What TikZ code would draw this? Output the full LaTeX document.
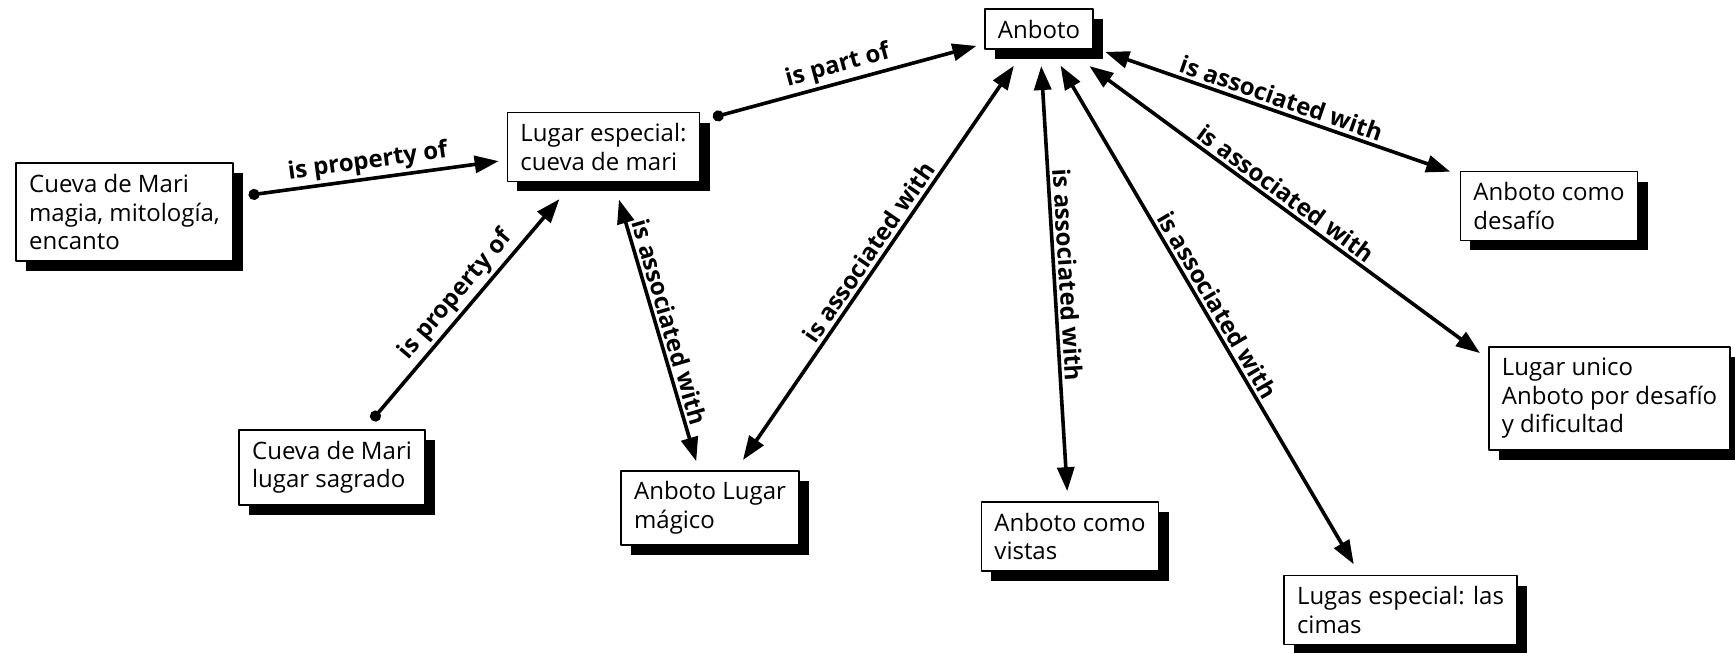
\documentclass[tikz,border=0pt]{standalone}
\usepackage{fontspec}
\setmainfont{Open Sans}
\usetikzlibrary{arrows.meta,shadows}

\tikzset{
  concept/.style={draw=black, line width=1.7pt, fill=white, align=left,
    inner xsep=13pt, inner ysep=11pt, font=\fontsize{24}{28.5}\selectfont,
    drop shadow={shadow xshift=10pt, shadow yshift=-10pt, fill=black, opacity=1}},
  both/.style={line width=3.6pt, {Triangle[length=24pt,width=17pt]}-{Triangle[length=24pt,width=17pt]}},
  from/.style={line width=3.6pt, {Circle[length=11pt]}-{Triangle[length=24pt,width=17pt]}},
  lbl/.style={font=\bfseries\fontsize{24}{28.5}\selectfont, sloped, above, midway, inner sep=3pt}
}

\begin{document}
\begin{tikzpicture}[line join=round,x=1pt,y=-1pt]
		\useasboundingbox (0,0) rectangle (1735,653);
		% concepts
		\node[concept] (cuevamagia) at (124.5,212) {Cueva de Mari\\magia, mitología,\\encanto};
		\node[concept] (lugarcueva) at (603.5,147) {Lugar especial:\\cueva de mari};
		\node[concept] (anboto) at (1039,29) {Anboto};
		\node[concept] (desafio) at (1549,206) {Anboto como\\desafío};
		\node[concept] (unico) at (1609.5,398.5) {Lugar unico\\Anboto por desafío\\y dificultad};
		\node[concept] (sagrado) at (332,467.5) {Cueva de Mari\\lugar sagrado};
		\node[concept] (magico) at (710,508) {Anboto Lugar\\mágico};
		\node[concept] (vistas) at (1070,536.5) {Anboto como\\vistas};
		\node[concept] (cimas) at (1400.5,610) {Lugas especial: las\\cimas};
		% links
		\draw[from, shorten <=15pt, shorten >=8pt] (cuevamagia) -- node[lbl] {is property of} (lugarcueva);
		\draw[from, shorten <=12pt, shorten >=22pt] (sagrado) -- node[lbl] {is property of} (lugarcueva);
		\draw[from, shorten <=13pt, shorten >=8pt] (lugarcueva) -- node[lbl] {is part of} (anboto);
		\draw[both, shorten <=18pt, shorten >=9pt] (lugarcueva) -- node[lbl] {is associated with} (magico);
		\draw[both, shorten <=12pt, shorten >=19pt] (magico) -- node[lbl] {is associated with} (anboto);
		\draw[both, shorten <=10pt, shorten >=16pt] (vistas) -- node[lbl] {is associated with} (anboto);
		\draw[both, shorten <=12pt, shorten >=18pt] (cimas.139.5) -- node[lbl] {is associated with} (anboto);
		\draw[both, shorten <=10pt, shorten >=27pt] (unico.162) -- node[lbl] {is associated with} (anboto);
		\draw[both, shorten <=10pt, shorten >=12pt] (desafio) -- node[lbl] {is associated with} (anboto);
\end{tikzpicture}
\end{document}
